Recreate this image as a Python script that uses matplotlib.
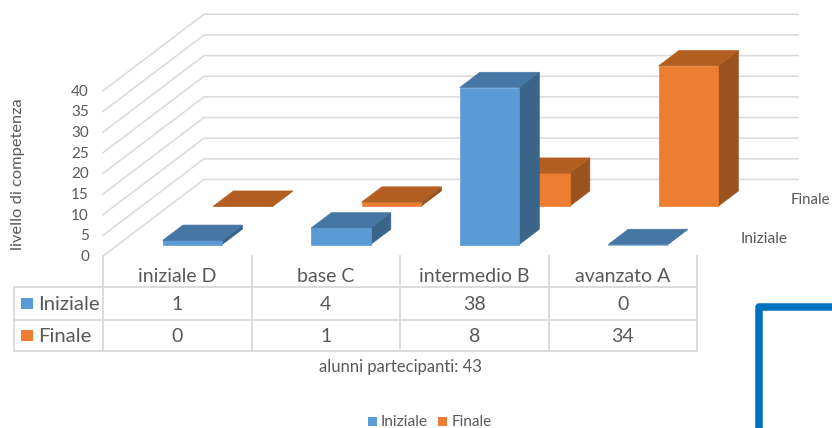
import matplotlib
matplotlib.use("Agg")
import matplotlib.pyplot as plt
from matplotlib.patches import Polygon, Rectangle

categories = ["iniziale D", "base C", "intermedio B", "avanzato A"]
iniziale = [1, 4, 38, 0]
finale = [0, 1, 8, 34]
y_ticks = [0, 5, 10, 15, 20, 25, 30, 35, 40]

plt.rcParams["font.family"] = ["Lato", "DejaVu Sans"]

TEXT = "#595959"
GRID = "#D9D9D9"
BLUE = ("#5B9BD5", "#4676A3", "#3A6488")
ORANGE = ("#ED7D31", "#B45F22", "#9A521E")

# oblique projection, all in pixels of the 832x428 picture
X0, Y0 = 103, 256
CAT_W = 148.5
UNIT_Y = 4.13
DEPTH_X, DEPTH_Y = 50.5, 38.25
BAR_W, BAR_D = 0.4, 0.4


def project(x, value, depth):
    return X0 + x * CAT_W + depth * DEPTH_X, Y0 - value * UNIT_Y - depth * DEPTH_Y


def draw_bar(ax, cat, value, row, colors):
    front, top, side = colors
    x0 = cat + 0.5 - BAR_W / 2
    x1 = x0 + BAR_W
    d0 = row + 0.5 - BAR_D / 2
    d1 = d0 + BAR_D
    faces = [
        (side, [(x1, 0, d0), (x1, 0, d1), (x1, value, d1), (x1, value, d0)]),
        (front, [(x0, 0, d0), (x1, 0, d0), (x1, value, d0), (x0, value, d0)]),
        (top, [(x0, value, d0), (x1, value, d0), (x1, value, d1), (x0, value, d1)]),
    ]
    for color, corners in faces:
        ax.add_patch(Polygon([project(*c) for c in corners], closed=True, facecolor=color,
                             edgecolor=color, linewidth=0.5, zorder=3))


fig = plt.figure(figsize=(8.32, 4.28), dpi=100)
ax = fig.add_axes([0, 0, 1, 1])
ax.set_xlim(0, 832)
ax.set_ylim(428, 0)
ax.axis("off")

# walls
n_cat = len(categories)
for tick in y_ticks:
    left = project(0, tick, 0)
    corner = project(0, tick, 2)
    right = project(n_cat, tick, 2)
    ax.plot([left[0], corner[0], right[0]], [left[1], corner[1], right[1]], color=GRID, lw=1.1, zorder=1)
    ax.text(left[0] - 14, left[1] + 1, str(tick), ha="right", va="center", fontsize=11, color=TEXT)

# back row first so the front row covers it
for i, value in enumerate(finale):
    draw_bar(ax, i, value, 1, ORANGE)
for i, value in enumerate(iniziale):
    draw_bar(ax, i, value, 0, BLUE)

# depth axis labels
ax.text(791, 200, "Finale", ha="left", va="center", fontsize=10.8, color=TEXT)
ax.text(741, 239, "Iniziale", ha="left", va="center", fontsize=11.2, color=TEXT)
ax.text(18, 174, "livello di competenza", rotation=90, ha="center", va="center", fontsize=11.8, color=TEXT)

# data table
row_y = [Y0, 287, 319.5, 351]
for i in range(n_cat + 1):
    x = X0 + i * CAT_W
    ax.plot([x, x], [row_y[0], row_y[3]], color=GRID, lw=1.3, zorder=1)
ax.plot([14, 14], [row_y[1], row_y[3]], color=GRID, lw=1.3, zorder=1)
for y in row_y[1:]:
    ax.plot([14, X0 + n_cat * CAT_W], [y, y], color=GRID, lw=1.3, zorder=1)

for i, name in enumerate(categories):
    cx = X0 + (i + 0.5) * CAT_W
    ax.text(cx, 277, name, ha="center", va="center", fontsize=14, color=TEXT)
    ax.text(cx, 304, str(iniziale[i]), ha="center", va="center", fontsize=14, color=TEXT)
    ax.text(cx, 336, str(finale[i]), ha="center", va="center", fontsize=14, color=TEXT)

for y, name, colors in [(303, "Iniziale", BLUE), (335, "Finale", ORANGE)]:
    ax.add_patch(Rectangle((21, y - 5.5), 12, 11, facecolor=colors[0], edgecolor="none"))
    ax.text(38, y + 1, name, ha="left", va="center", fontsize=14.6, color=TEXT)

ax.text(400, 367, "alunni partecipanti: 43", ha="center", va="center", fontsize=12, color=TEXT)

# legend
ax.add_patch(Rectangle((368, 417), 9, 9, facecolor=BLUE[0], edgecolor="none"))
ax.text(381, 422, "Iniziale", ha="left", va="center", fontsize=11.2, color=TEXT)
ax.add_patch(Rectangle((438, 417), 9, 9, facecolor=ORANGE[0], edgecolor="none"))
ax.text(452, 422, "Finale", ha="left", va="center", fontsize=11, color=TEXT)

# blue frame cut off at the corner of the screenshot
ax.plot([759, 759, 840], [440, 306.5, 306.5], color="#0070C0", lw=5.4, solid_joinstyle="round", zorder=4)

fig.savefig("out.png", dpi=100)
plt.close(fig)
